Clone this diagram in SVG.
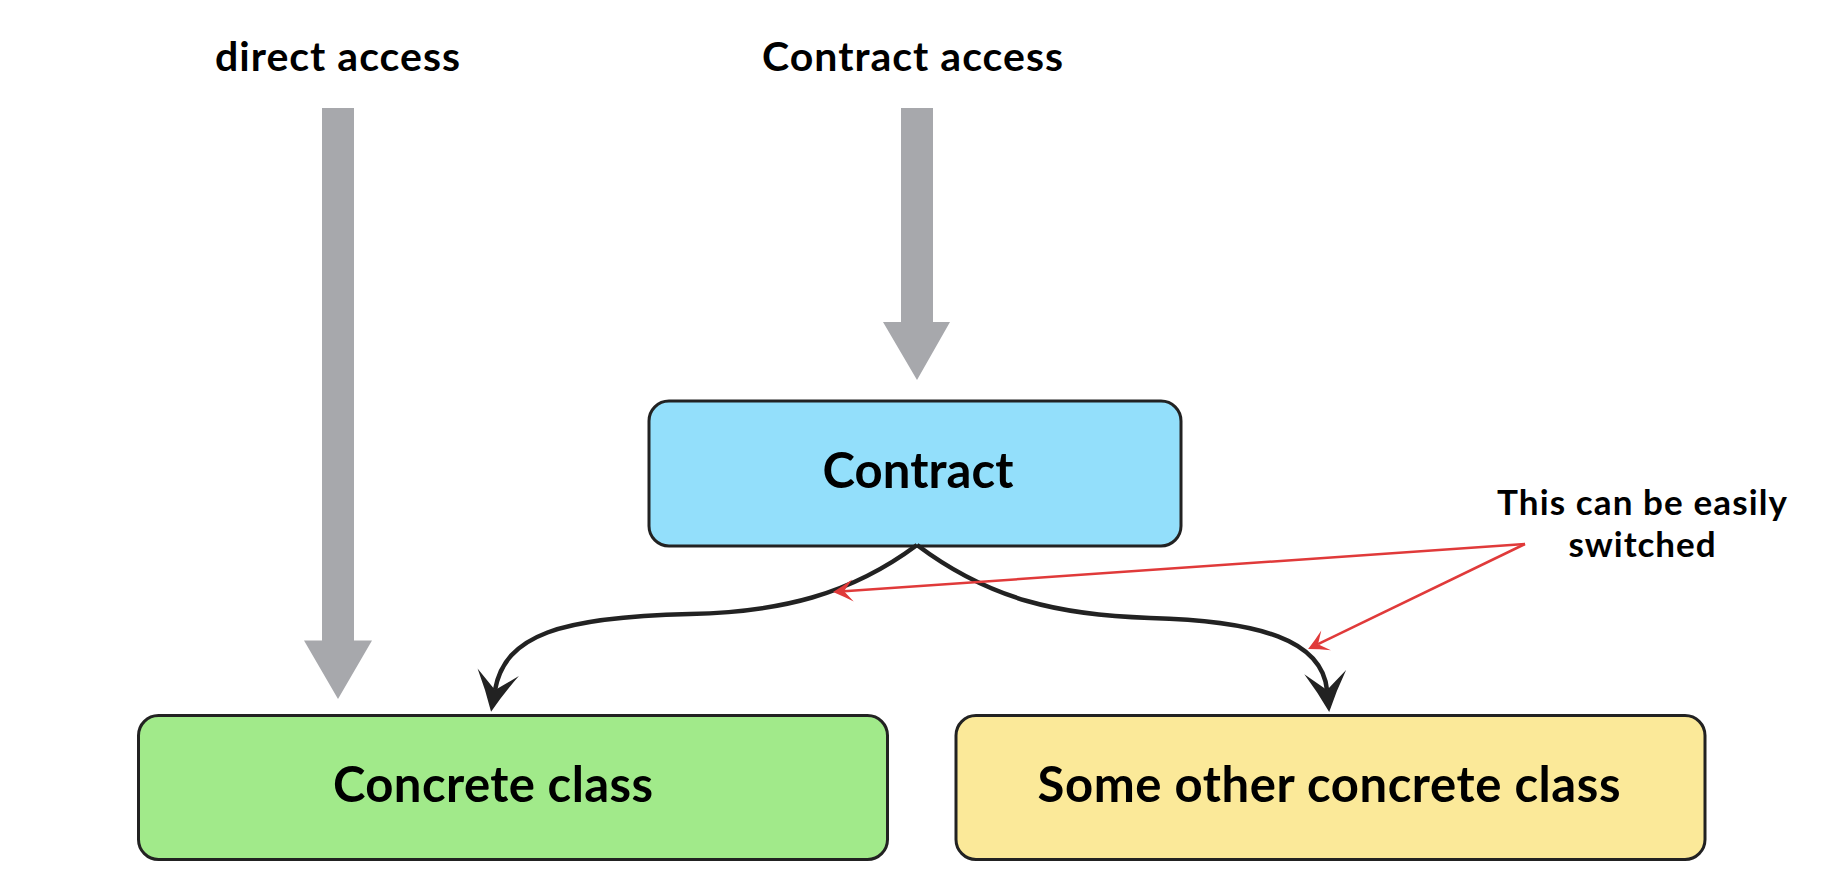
<svg xmlns="http://www.w3.org/2000/svg" width="1822" height="894" viewBox="0 0 1822 894">
<style>
  .lbl { font-family: Lato, "Open Sans", "Liberation Sans", sans-serif; font-weight: 700; fill: #000; text-anchor: middle; }
  .top { font-size: 41px; }
  .box { font-size: 49px; }
  .note { font-size: 35px; }
  .node rect { stroke: #222; stroke-width: 3; }
  .gray { fill: #a7a8ac; }
  .flow { fill: none; stroke: #222; stroke-width: 4.5; }
  .red { fill: none; stroke: #e03a3a; stroke-width: 2.5; }
</style>
<defs>
  <marker id="blk" markerUnits="userSpaceOnUse" viewBox="-42 -24 46 48" refX="-22" refY="0" markerWidth="46" markerHeight="48" orient="auto" overflow="visible">
    <path d="M0,0 Q-20,-9 -40,-21 L-22,0 L-40,21 Q-20,9 0,0 Z" fill="#222"/>
  </marker>
  <marker id="redh" markerUnits="userSpaceOnUse" viewBox="-22 -13 26 26" refX="-11" refY="0" markerWidth="26" markerHeight="26" orient="auto" overflow="visible">
    <path d="M0,0 Q-10,-5 -20,-11 L-11,0 L-20,11 Q-10,5 0,0 Z" fill="#e03a3a"/>
  </marker>
</defs>
<rect width="1822" height="894" fill="#fff"/>

<g id="label-direct">
  <text class="lbl top" x="337.5" y="71" textLength="245" lengthAdjust="spacing">direct access</text>
</g>
<g id="label-contract-access">
  <text class="lbl top" x="912.5" y="71" textLength="301" lengthAdjust="spacing">Contract access</text>
</g>

<g id="arrow-direct">
  <path class="gray" d="M322,108 H354 V640.5 H372 L338,699 L304,640.5 H322 Z"/>
</g>
<g id="arrow-contract">
  <path class="gray" d="M901,108 H933 V322 H950 L917,380 L883,322 H901 Z"/>
</g>

<g id="node-contract" class="node">
  <rect x="649" y="401" width="532" height="145" rx="20" ry="20" fill="#93dffb"/>
  <text class="lbl box" x="918" y="488" textLength="191" lengthAdjust="spacing">Contract</text>
</g>
<g id="node-concrete" class="node">
  <rect x="138.5" y="715.5" width="749" height="144" rx="20" ry="20" fill="#a1ea8a"/>
  <text class="lbl box" x="493" y="802" textLength="320" lengthAdjust="spacing">Concrete class</text>
</g>
<g id="node-other" class="node">
  <rect x="956" y="715.5" width="749" height="144" rx="20" ry="20" fill="#fbe999"/>
  <text class="lbl box" x="1329" y="802" textLength="583" lengthAdjust="spacing">Some other concrete class</text>
</g>

<g id="connectors">
  <path class="flow" marker-end="url(#blk)" d="M917,545 C850,595 780,612 690,614 C560,617 505,635 495,690"/>
  <path class="flow" marker-end="url(#blk)" d="M917,545 C990,600 1060,615 1150,618 C1260,621 1322,640 1327,690"/>
  <path class="red" marker-end="url(#redh)" d="M1525,544 L844,591.2"/>
  <path class="red" marker-end="url(#redh)" d="M1525,544 L1318,644.2"/>
</g>

<g id="label-note">
  <text class="lbl note" x="1642" y="515" textLength="290" lengthAdjust="spacing">This can be easily</text>
  <text class="lbl note" x="1642" y="557" textLength="147" lengthAdjust="spacing">switched</text>
</g>
</svg>
